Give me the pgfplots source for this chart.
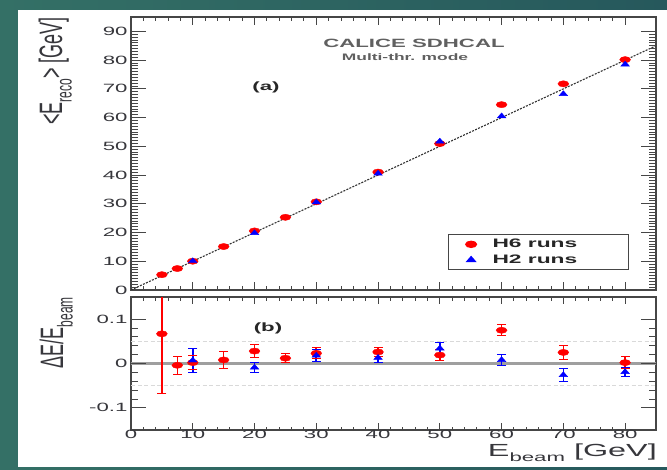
\documentclass[border=0pt]{standalone}
\usepackage{pgfplots}
\pgfplotsset{compat=1.18}
\usepackage{fontspec}
\setmainfont{Liberation Sans}[FakeStretch=1.85]
\newfontfamily\plainsans{Liberation Sans}
\definecolor{tealA}{RGB}{52,112,102}
\definecolor{tealB}{RGB}{38,88,92}
\colorlet{hsix}{red}
\colorlet{htwo}{blue}
\definecolor{txt}{RGB}{55,55,60}
\definecolor{frm}{RGB}{70,70,70}

% lower panel: x, value, low end and high end of the error bar
\pgfplotstableread{
x y lo hi
5 0.067 -0.067 0.201
7.5 -0.004 -0.024 0.016
10 0.002 -0.013 0.017
15 0.008 -0.011 0.027
20 0.028 0.013 0.043
25 0.012 0.002 0.022
30 0.023 0.011 0.035
40 0.026 0.016 0.036
50 0.019 0.007 0.031
60 0.075 0.063 0.087
70 0.025 0.010 0.040
80 0.002 -0.012 0.016
}\lowsix
\pgfplotstableread{
x y lo hi
10 0.007 -0.020 0.034
20 -0.009 -0.021 0.003
30 0.018 0.005 0.031
40 0.013 0.003 0.023
50 0.034 0.021 0.047
60 0.008 -0.005 0.021
70 -0.026 -0.041 -0.011
80 -0.019 -0.029 -0.009
}\lowtwo

\pgfplotsset{
  common/.style={
    scale only axis, anchor=south west, width=525pt,
    xmin=0, xmax=85,
    axis line style={line width=1.2pt, frm},
    tick style={line width=0.9pt, frm},
    /pgf/number format/assume math mode=true,
    ticklabel style={font=\fontsize{12}{13}\selectfont, text=txt},
  },
  xpart/.style={
    xtick={0,10,20,30,40,50,60,70,80}, minor x tick num=4,
    ytick=\empty, major tick length=8pt, minor tick length=4pt,
  },
  ypart/.style={
    xtick=\empty, major tick length=15pt, minor tick length=7pt,
    axis line style={draw=none},
  },
  sixmark/.style={color=hsix, mark=*, mark size=3.1pt, mark options={xscale=1.75, fill=hsix, draw=hsix}},
  twomark/.style={color=htwo, mark=triangle*, mark size=3.3pt, mark options={xscale=1.5, fill=htwo, draw=htwo}},
  sixbar/.style={draw=red, color=red, line width=1.6pt, forget plot, mark=none},
  twobar/.style={draw=blue, color=blue, line width=1.6pt, forget plot, mark=none},
}

\begin{document}
\begin{tikzpicture}[x=1pt,y=1pt]
\useasboundingbox (0,0) rectangle (667,469);
\shade[left color=tealA, right color=tealB] (0,0) rectangle (667,469);
\fill[white] (18,2) rectangle (667,459);

% ---------- upper panel ----------
\begin{axis}[common, xpart, at={(131pt,179pt)}, height=273pt,
  ymin=0, ymax=95, xticklabels={},
  legend style={at={(rel axis cs:0.604,0.073)}, anchor=south west,
    draw=frm, line width=1.2pt, fill=white,
    font=\bfseries\fontsize{12.3}{14}\selectfont, text=black!85,
    row sep=1.5pt, inner ysep=2.5pt, inner xsep=17pt, column sep=14pt},
  legend image code/.code={\draw[#1] plot coordinates {(0pt,0pt)};},
  legend cell align=left]
\addplot[gray!40!black, line width=1.1pt, dash pattern=on 2pt off 1.3pt, forget plot] coordinates {(0,0) (85,85)};
\addplot[only marks, sixmark] coordinates {(5,5.33) (7.5,7.47) (10,10.02) (15,15.12) (20,20.56) (25,25.3) (30,30.69) (40,41.04) (50,50.95) (60,64.5) (70,71.75) (80,80.16)};
\addlegendentry{H6 runs\hspace*{32pt}}
\addplot[only marks, twomark] coordinates {(10,10.07) (20,19.82) (30,30.54) (40,40.52) (50,51.7) (60,60.48) (70,68.2) (80,78.5)};
\addlegendentry{H2 runs\hspace*{32pt}}
\end{axis}
\begin{axis}[common, ypart, at={(131pt,179pt)}, height=273pt,
  ymin=0, ymax=95, ytick={0,10,20,30,40,50,60,70,80,90},
  yticklabels={0,10,20,30,40,50,60,70,80,90}, minor y tick num=9]
\end{axis}

% ---------- lower panel ----------
\begin{axis}[common, xpart, at={(131pt,39pt)}, height=133pt,
  ymin=-0.15, ymax=0.15, major tick length=7pt, minor tick length=3.5pt,
  xticklabels={0,10,20,30,40,50,60,70,80},
  xticklabel style={yshift=3pt}]
\addplot[gray!75, line width=2.6pt] coordinates {(0,0) (85,0)};
\addplot[gray!30, line width=1pt, dash pattern=on 4pt off 2.5pt] coordinates {(0,0.05) (85,0.05)};
\addplot[gray!30, line width=1pt, dash pattern=on 4pt off 2.5pt] coordinates {(0,-0.05) (85,-0.05)};
% H6 error bars (lo/hi ends from the table above)
\addplot[sixbar] coordinates {(5,-0.067) (5,0.201)};
\addplot[sixbar] coordinates {(7.5,-0.024) (7.5,0.016)};
\addplot[sixbar] coordinates {(10,-0.013) (10,0.017)};
\addplot[sixbar] coordinates {(15,-0.011) (15,0.027)};
\addplot[sixbar] coordinates {(20,0.013) (20,0.043)};
\addplot[sixbar] coordinates {(25,0.002) (25,0.022)};
\addplot[sixbar] coordinates {(30,0.011) (30,0.035)};
\addplot[sixbar] coordinates {(40,0.016) (40,0.036)};
\addplot[sixbar] coordinates {(50,0.007) (50,0.031)};
\addplot[sixbar] coordinates {(60,0.063) (60,0.087)};
\addplot[sixbar] coordinates {(70,0.010) (70,0.040)};
\addplot[sixbar] coordinates {(80,-0.012) (80,0.016)};
\addplot[only marks, hsix, mark=-, mark size=4.5pt, mark options={line width=1pt}, forget plot] table[x=x, y=lo] {\lowsix};
\addplot[only marks, hsix, mark=-, mark size=4.5pt, mark options={line width=1pt}, forget plot] table[x=x, y=hi] {\lowsix};
% H2 error bars
\addplot[twobar] coordinates {(10,-0.020) (10,0.034)};
\addplot[twobar] coordinates {(20,-0.021) (20,0.003)};
\addplot[twobar] coordinates {(30,0.005) (30,0.031)};
\addplot[twobar] coordinates {(40,0.003) (40,0.023)};
\addplot[twobar] coordinates {(50,0.021) (50,0.047)};
\addplot[twobar] coordinates {(60,-0.005) (60,0.021)};
\addplot[twobar] coordinates {(70,-0.041) (70,-0.011)};
\addplot[twobar] coordinates {(80,-0.029) (80,-0.009)};
\addplot[only marks, htwo, mark=-, mark size=4.5pt, mark options={line width=1pt}, forget plot] table[x=x, y=lo] {\lowtwo};
\addplot[only marks, htwo, mark=-, mark size=4.5pt, mark options={line width=1pt}, forget plot] table[x=x, y=hi] {\lowtwo};
\addplot[only marks, sixmark] table[x=x, y=y] {\lowsix};
\addplot[only marks, twomark] table[x=x, y=y] {\lowtwo};
\end{axis}
\begin{axis}[common, ypart, at={(131pt,39pt)}, height=133pt,
  ymin=-0.15, ymax=0.15, ytick={-0.1,0,0.1},
  yticklabels={-0.1,0,0.1}, minor y tick num=4]
\end{axis}

% ---------- texts ----------
\node[text=gray!75!black, font=\bfseries\fontsize{12}{12}\selectfont] at (414,426) {CALICE SDHCAL};
\node[text=gray!75!black, font=\bfseries\fontsize{9.4}{10}\selectfont] at (405,412) {Multi-thr. mode};
\node[text=black!85, font=\bfseries\fontsize{12}{12}\selectfont] at (266,382) {(a)};
\node[text=black!85, font=\bfseries\fontsize{12}{12}\selectfont] at (268,141) {(b)};

\node[rotate=90, anchor=base east, inner sep=0, text=txt] at (62,452)
  {\scalebox{1}[1.8]{\plainsans\fontsize{18}{18}\selectfont <E\raisebox{-0.3em}{\fontsize{12}{12}\selectfont reco}> [GeV]}};
\node[rotate=90, anchor=base east, inner sep=0, text=txt] at (63,172)
  {\scalebox{1}[1.8]{\plainsans\fontsize{18}{18}\selectfont ΔE/E\raisebox{-0.3em}{\fontsize{12}{12}\selectfont beam}}};
\node[anchor=base east, inner sep=0, text=txt] at (657,12.5)
  {\fontsize{17.5}{18}\selectfont E\raisebox{-0.3em}{\fontsize{12}{12}\selectfont beam} [GeV]};
\end{tikzpicture}
\end{document}
